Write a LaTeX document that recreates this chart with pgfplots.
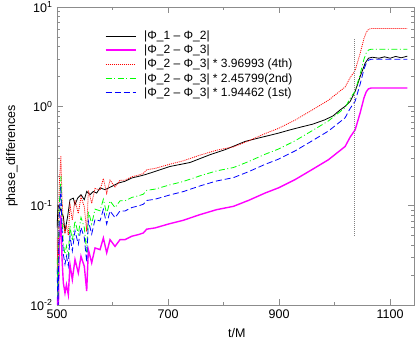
\documentclass[border=0pt]{standalone}
\usepackage{fontspec}
\setmainfont{Liberation Sans}
\usepackage{pgfplots}
\pgfplotsset{compat=1.18}
\usepackage{pgfplotstable}

\definecolor{axgray}{HTML}{8C8C8C}
\definecolor{cmag}{HTML}{FF00FF}
\definecolor{cgreen}{HTML}{00FF00}
\definecolor{cblue}{HTML}{0000FF}
\definecolor{cred}{HTML}{FF0000}

% |Phi_2 - Phi_3|
\pgfplotstableread{
t v
500 0.012
502 0.005
504 0.04
507 0.08
509 0.03
511.4 0.0167
514.4 0.0132
517 0.016
520.4 0.0127
523.4 0.0255
527.6 0.018
532.4 0.0287
538.4 0.021
543.2 0.031
549.2 0.0245
553.5 0.0138
556.5 0.0361
562.5 0.0266
568.5 0.0375
577.5 0.0361
583.5 0.0473
589.5 0.0335
595.5 0.0455
604.5 0.0389
613.5 0.0455
622.5 0.0455
634.6 0.0492
646.5 0.0511
655.5 0.0531
661.6 0.058
676.6 0.0597
703.6 0.066
727.6 0.0713
757.7 0.0813
787.7 0.0912
817.7 0.0984
845 0.113
874.8 0.134
898.8 0.151
928.8 0.183
958.9 0.230
988.9 0.290
1018.9 0.394
1028 0.49
1037 0.58
1046 0.86
1053 1.22
1057 1.40
1061 1.50
1066 1.53
1090 1.53
1131 1.53
}\magdata

% |Phi_1 - Phi_2|
\pgfplotstableread{
t v
500 0.06
502 0.1
505.4 0.0948
508 0.085
511.4 0.0781
514.4 0.0552
519.2 0.078
523.4 0.115
529.4 0.119
532.4 0.102
537.2 0.119
543.2 0.129
549.2 0.115
553.5 0.139
559.5 0.129
565.5 0.139
571.5 0.134
577.5 0.151
586.5 0.145
598.5 0.156
610.6 0.169
622.5 0.176
634.6 0.190
646.5 0.197
658.5 0.205
676.6 0.221
703.6 0.248
739.6 0.272
775.7 0.326
802.7 0.366
838.7 0.443
870 0.49
898.8 0.537
920 0.58
940 0.62
960 0.66
982 0.73
997 0.80
1010 0.92
1019 1.0
1028 1.12
1037 1.41
1046 1.99
1055 2.72
1061 3.05
1068 3.12
1080 3.05
1090 3.15
1100 3.05
1110 3.18
1120 3.08
1131 3.2
}\blackdata

\begin{document}
\begin{tikzpicture}
\begin{axis}[
  name=ax,
  scale only axis,
  width=357pt, height=298pt,
  ymode=log,
  xmin=500, xmax=1143,
  ymin=0.01, ymax=10,
  xtick={500,700,900,1100},
  xticklabels={500,700,900,1100},
  minor xtick={600,800,1000},
  ytick={0.01,0.1,1,10},
  yticklabels={10\textsuperscript{-2},10\textsuperscript{-1},10\textsuperscript{0},10\textsuperscript{1}},
  tick align=inside,
  major tick length=6pt, minor tick length=3pt,
  axis line style={axgray},
  every tick/.style={axgray},
  tick label style={font=\fontsize{12.5}{14}\selectfont, black},
  xticklabel style={yshift=-1pt},
  yticklabel style={xshift=-1pt},
  xlabel={t/M}, ylabel={phase\_differences},
  every axis x label/.style={at={(axis description cs:0.504,-0.094)}, anchor=center},
  every axis y label/.style={at={(axis description cs:-0.126,0.5)}, rotate=90, anchor=center},
  label style={font=\fontsize{12.5}{14}\selectfont},
  legend style={at={(axis description cs:0.125,0.934)}, anchor=north west,
    draw=none, fill=none, font=\fontsize{12}{14}\selectfont,
    row sep=0pt, cells={inner ysep=2.6pt}},
  legend image code/.code={\draw[#1] (0pt,0pt) -- (30pt,0pt); \path (36pt,0pt);},
  legend cell align=left,
]
\addplot[black, line width=0.8pt] table[x=t, y=v] {\blackdata};
\addlegendentry{|Φ\_1 – Φ\_2|}
\addplot[cmag, line width=1.4pt] table[x=t, y=v] {\magdata};
\addlegendentry{|Φ\_2 – Φ\_3|}
\addplot[cred, line width=0.8pt, dash pattern=on 1pt off 1pt] table[x=t, y expr=\thisrow{v}*3.96993] {\magdata};
\addlegendentry{|Φ\_2 – Φ\_3| * 3.96993 (4th)}
\addplot[cgreen, line width=0.8pt, dash pattern=on 6pt off 2.5pt on 1pt off 2.5pt] table[x=t, y expr=\thisrow{v}*2.45799] {\magdata};
\addlegendentry{|Φ\_2 – Φ\_3| * 2.45799(2nd)}
\addplot[cblue, line width=0.8pt, dash pattern=on 6pt off 3pt] table[x=t, y expr=\thisrow{v}*1.94462] {\magdata};
\addlegendentry{|Φ\_2 – Φ\_3| * 1.94462 (1st)}
\addplot[gray, line width=0.8pt, dash pattern=on 1pt off 1pt, forget plot] coordinates {(1036,0.05) (1036,4.9)};
\end{axis}
\pgfresetboundingbox
\path (ax.south west) ++(-57pt,-42pt) rectangle ++(415pt,347pt);
\end{tikzpicture}
\end{document}
